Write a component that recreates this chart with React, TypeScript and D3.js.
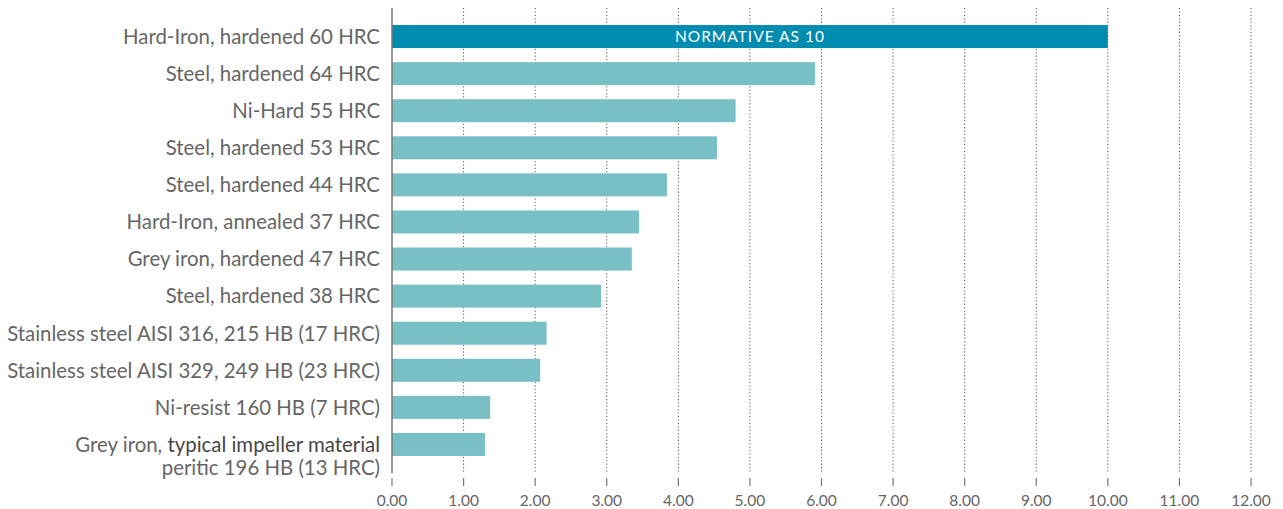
import React from "react";
import * as d3 from "d3";

const categories = [
  "Hard-Iron, hardened 60 HRC",
  "Steel, hardened 64 HRC",
  "Ni-Hard 55 HRC",
  "Steel, hardened 53 HRC",
  "Steel, hardened 44 HRC",
  "Hard-Iron, annealed 37 HRC",
  "Grey iron, hardened 47 HRC",
  "Steel, hardened 38 HRC",
  "Stainless steel AISI 316, 215 HB (17 HRC)",
  "Stainless steel AISI 329, 249 HB (23 HRC)",
  "Ni-resist 160 HB (7 HRC)",
  "Grey iron, typical impeller material|peritic 196 HB (13 HRC)",
];
const values = [10, 5.91, 4.8, 4.54, 3.84, 3.45, 3.35, 2.92, 2.16, 2.07, 1.37, 1.3];
const xTicks = [0, 1, 2, 3, 4, 5, 6, 7, 8, 9, 10, 11, 12];
const highlightLabel = "NORMATIVE AS 10";

const W = 1283;
const H = 509;
const left = 392;
const right = 1251;
const top = 18;
const bottom = 463;

export default function App() {
  const x = d3.scaleLinear().domain([0, 12]).range([left, right]);
  const y = d3
    .scaleBand<number>()
    .domain(categories.map((_, i) => i))
    .range([top, bottom])
    .paddingInner(0.38)
    .paddingOuter(0.19);
  const font = "Lato, 'Open Sans', sans-serif";
  const lab = 20.4;
  return (
    <svg
      width={W}
      height={H}
      style={{ position: "absolute", left: 0, top: 0, background: "#fff" }}
      fontFamily={font}
    >
      {xTicks.slice(1).map((t) => (
        <line
          key={"g" + t}
          x1={x(t)}
          x2={x(t)}
          y1={8}
          y2={473}
          stroke="#555"
          strokeWidth={1}
          strokeDasharray="1.2,2.2"
        />
      ))}
      {values.map((v, i) => (
        <rect
          key={"b" + i}
          x={x(0)}
          y={y(i)}
          width={x(v) - x(0)}
          height={y.bandwidth()}
          fill={i === 0 ? "#008bb1" : "#78c0c6"}
        />
      ))}
      <text
        x={(x(0) + x(values[0])) / 2}
        y={(y(0) as number) + y.bandwidth() / 2}
        dy="0.36em"
        textAnchor="middle"
        fill="#fff"
        fontSize={15.5}
        letterSpacing={1}
      >
        {highlightLabel}
      </text>
      <line x1={x(0)} x2={x(0)} y1={8} y2={473} stroke="#777" strokeWidth={1.5} />
      {categories.map((c, i) => {
        const parts = c.split("|");
        const cy = (y(i) as number) + y.bandwidth() / 2;
        if (parts.length === 1) {
          return (
            <text key={"l" + i} x={380} y={cy} dy="0.36em" textAnchor="end" fill="#666" fontSize={lab}>
              {c}
            </text>
          );
        }
        const [a, b] = parts;
        const idx = a.indexOf("typical");
        return (
          <g key={"l" + i}>
            <text x={380} y={cy} dy="0.36em" textAnchor="end" fill="#666" fontSize={lab}>
              <tspan>{a.slice(0, idx)}</tspan>
              <tspan fill="#474747">{a.slice(idx)}</tspan>
            </text>
            <text x={380} y={cy + 23} dy="0.36em" textAnchor="end" fill="#666" fontSize={lab}>
              {b}
            </text>
          </g>
        );
      })}
      {xTicks.map((t) => (
        <g key={"t" + t}>
          <line x1={x(t)} x2={x(t)} y1={478} y2={486} stroke="#777" strokeWidth={1.2} />
          <text x={x(t)} y={500} dy="0.36em" textAnchor="middle" fill="#666" fontSize={15.5}>
            {t.toFixed(2)}
          </text>
        </g>
      ))}
    </svg>
  );
}
